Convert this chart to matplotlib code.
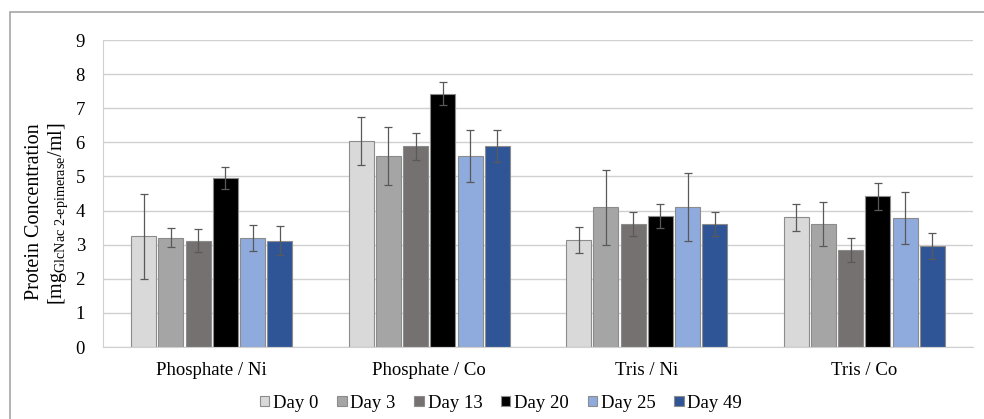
import matplotlib
matplotlib.use("Agg")
import matplotlib.pyplot as plt
import numpy as np
from matplotlib.patches import Rectangle

# data
categories = ["Phosphate / Ni", "Phosphate / Co", "Tris / Ni", "Tris / Co"]
days = ["Day 0", "Day 3", "Day 13", "Day 20", "Day 25", "Day 49"]

# mean protein concentration per day, one value per category
day0 = [3.25, 6.05, 3.15, 3.80]
day3 = [3.20, 5.60, 4.10, 3.60]
day13 = [3.12, 5.88, 3.60, 2.85]
day20 = [4.95, 7.43, 3.83, 4.42]
day25 = [3.20, 5.60, 4.10, 3.78]
day49 = [3.12, 5.88, 3.60, 2.95]

# error bar half-lengths
err0 = [1.25, 0.70, 0.38, 0.40]
err3 = [0.28, 0.85, 1.10, 0.65]
err13 = [0.33, 0.40, 0.35, 0.35]
err20 = [0.33, 0.33, 0.35, 0.40]
err25 = [0.38, 0.75, 1.00, 0.75]
err49 = [0.42, 0.47, 0.35, 0.38]

means = [day0, day3, day13, day20, day25, day49]
errors = [err0, err3, err13, err20, err25, err49]
colors = ["#D9D9D9", "#A5A5A5", "#767171", "#000000", "#8FAADC", "#2F5597"]

plt.rcParams["font.family"] = ["Liberation Serif", "DejaVu Serif"]
plt.rcParams["mathtext.fontset"] = "custom"
plt.rcParams["mathtext.rm"] = "Liberation Serif"
plt.rcParams["mathtext.default"] = "regular"

fig = plt.figure(figsize=(9.84, 4.19), dpi=100)
ax = fig.add_axes([103 / 984, 1 - 347 / 419, 870 / 984, 307 / 419])

# outer chart frame
fig.patches.append(Rectangle((10 / 984, -0.1), 1.1, 1 - 12 / 419 + 0.1,
                             transform=fig.transFigure, fill=False,
                             edgecolor="#A6A6A6", linewidth=1.2))

x = np.arange(len(categories))
width = 0.125
for i, (m, e, c, lab) in enumerate(zip(means, errors, colors, days)):
    pos = x + (i - 2.5) * width
    ax.bar(pos, m, width * 0.92, color=c, edgecolor="#8C8C8C", linewidth=0.8,
           label=lab, zorder=2)
    ax.errorbar(pos, m, yerr=e, fmt="none", ecolor="#595959", elinewidth=0.9,
                capsize=3, capthick=0.9, zorder=3)

ax.set_xlim(-0.5, 3.5)
ax.set_ylim(0, 9)
ax.set_yticks(range(0, 10))
ax.set_xticks(x)
ax.set_xticklabels(categories, fontsize=13.5)
ax.tick_params(axis="y", labelsize=13.5, length=0, pad=13)
ax.tick_params(axis="x", length=0, pad=11)
ax.yaxis.grid(True, color="#D0D0D0", linewidth=1.0, zorder=0)
ax.set_axisbelow(True)
for s in ["top", "right"]:
    ax.spines[s].set_visible(False)
ax.spines["left"].set_color("#D0D0D0")
ax.spines["bottom"].set_color("#D0D0D0")

fig.text(35 / 984, 1 - 212 / 419, "Protein Concentration",
         rotation=90, ha="center", va="center", fontsize=14.5)
fig.text(58 / 984, 1 - 214 / 419, r"[mg$_{\text{GlcNac 2-epimerase}}$/ml]",
         rotation=90, ha="center", va="center", fontsize=14.5)

leg = ax.legend(loc="center", ncol=6, frameon=False, fontsize=13.5,
                handlelength=0.5, handleheight=0.5, handletextpad=0.2,
                columnspacing=1.0)
leg.set_bbox_to_anchor((501 / 984, 1 - 403 / 419), transform=fig.transFigure)

fig.savefig("out.png", dpi=100)
